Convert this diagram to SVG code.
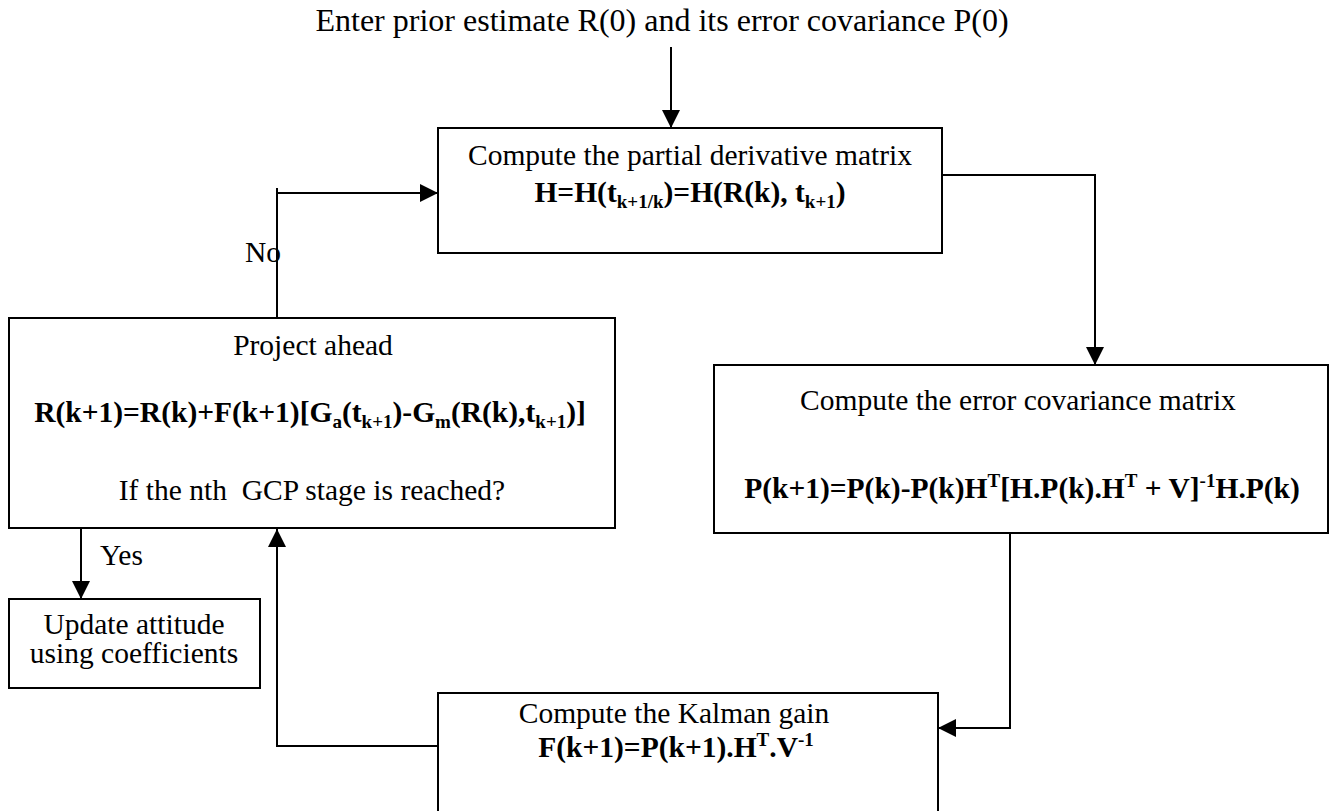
<svg xmlns="http://www.w3.org/2000/svg" width="1334" height="811" viewBox="0 0 1334 811">
<style>
  .box { fill: #fff; stroke: #000; stroke-width: 2; }
  .t { font-family: "Liberation Serif", "Times New Roman", serif; font-size: 29.5px; fill: #000; }
  .b { font-weight: bold; }
  .c { text-anchor: middle; }
  .s { font-size: 19px; }
  .conn { fill: none; stroke: #000; stroke-width: 2; }
</style>
<defs>
  <marker id="arr" markerUnits="userSpaceOnUse" markerWidth="18" markerHeight="18" refX="18" refY="9" orient="auto">
    <path d="M0,0 L18,9 L0,18 z" fill="#000"/>
  </marker>
</defs>
<rect width="1334" height="811" fill="#fff"/>

<text class="t c" x="662" y="31" style="font-size:32px">Enter prior estimate R(0) and its error covariance P(0)</text>

<g id="connectors">
  <path class="conn" d="M671,47 V128" marker-end="url(#arr)"/>
  <path class="conn" d="M940,175 H1095 V365" marker-end="url(#arr)"/>
  <path class="conn" d="M1010,533 V728 H938" marker-end="url(#arr)"/>
  <path class="conn" d="M438,746 H277 V529" marker-end="url(#arr)"/>
  <path class="conn" d="M277,318 V188 M277,193 H438" marker-end="url(#arr)"/>
  <path class="conn" d="M81,528 V599" marker-end="url(#arr)"/>
  <text class="t" x="245" y="262">No</text>
  <text class="t" x="100" y="565">Yes</text>
</g>

<g id="node-partial">
  <rect class="box" x="438" y="128" width="504" height="125"/>
  <text class="t c" x="690" y="165">Compute the partial derivative matrix</text>
  <text class="t b c" x="690" y="202">H=H(t<tspan class="s" dy="6">k+1/k</tspan><tspan dy="-6">)=H(R(k), t</tspan><tspan class="s" dy="6">k+1</tspan><tspan dy="-6">)</tspan></text>
</g>

<g id="node-project">
  <rect class="box" x="9" y="318" width="606" height="210"/>
  <text class="t c" x="313" y="355">Project ahead</text>
  <text class="t b c" x="310" y="422">R(k+1)=R(k)+F(k+1)[G<tspan class="s" dy="6">a</tspan><tspan dy="-6">(t</tspan><tspan class="s" dy="6">k+1</tspan><tspan dy="-6">)-G</tspan><tspan class="s" dy="6">m</tspan><tspan dy="-6">(R(k),t</tspan><tspan class="s" dy="6">k+1</tspan><tspan dy="-6">)]</tspan></text>
  <text class="t c" x="312" y="500" xml:space="preserve">If the nth  GCP stage is reached?</text>
</g>

<g id="node-covariance">
  <rect class="box" x="714" y="365" width="614" height="168"/>
  <text class="t c" x="1018" y="410">Compute the error covariance matrix</text>
  <text class="t b c" x="1022" y="498">P(k+1)=P(k)-P(k)H<tspan class="s" dy="-11">T</tspan><tspan dy="11">[H.P(k).H</tspan><tspan class="s" dy="-11">T</tspan><tspan dy="11"> + V]</tspan><tspan class="s" dy="-11">-1</tspan><tspan dy="11">H.P(k)</tspan></text>
</g>

<g id="node-update">
  <rect class="box" x="9" y="599" width="251" height="89"/>
  <text class="t c" x="134" y="634">Update attitude</text>
  <text class="t c" x="134" y="663">using coefficients</text>
</g>

<g id="node-kalman">
  <rect class="box" x="438" y="693" width="500" height="140"/>
  <text class="t c" x="674" y="723">Compute the Kalman gain</text>
  <text class="t b c" x="676" y="757">F(k+1)=P(k+1).H<tspan class="s" dy="-11">T</tspan><tspan dy="11">.V</tspan><tspan class="s" dy="-11">-1</tspan></text>
</g>
</svg>
